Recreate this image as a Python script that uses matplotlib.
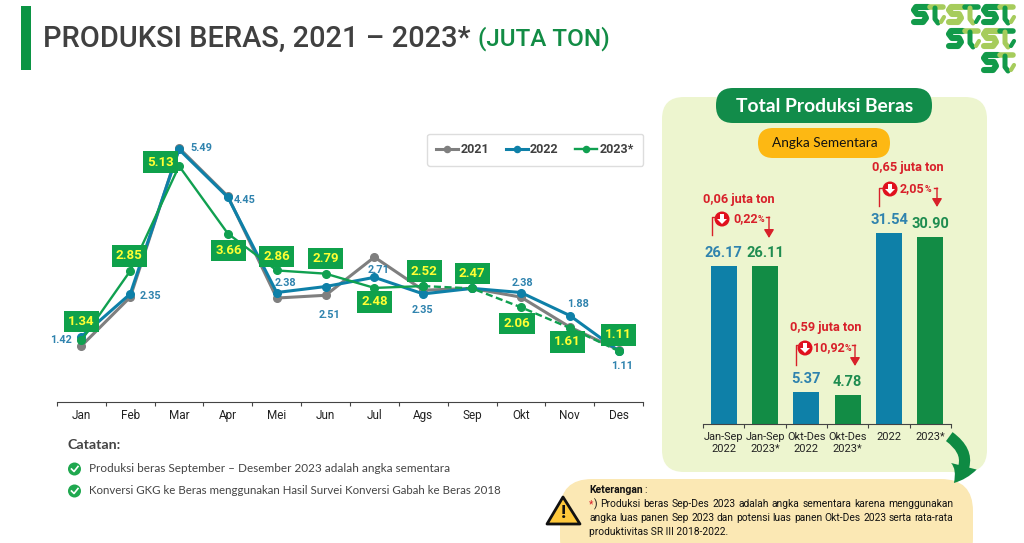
import matplotlib
matplotlib.use('Agg')
import matplotlib.pyplot as plt
from matplotlib.patches import FancyBboxPatch, FancyArrowPatch, Polygon, Circle

W, H = 1024, 543
plt.rcParams['font.family'] = ['Roboto', 'DejaVu Sans']

# data
months = ['Jan', 'Feb', 'Mar', 'Apr', 'Mei', 'Jun', 'Jul', 'Ags', 'Sep', 'Okt', 'Nov', 'Des']
prod_2021 = [1.22, 2.28, 5.52, 4.47, 2.26, 2.32, 3.15, 2.43, 2.47, 2.28, 1.63, 1.13]
prod_2022 = [1.42, 2.35, 5.49, 4.45, 2.38, 2.51, 2.71, 2.35, 2.47, 2.38, 1.88, 1.11]
prod_2023 = [1.34, 2.85, 5.13, 3.66, 2.86, 2.79, 2.48, 2.52, 2.47, 2.06, 1.61, 1.11]
solid_until = 7  # 2023 is dashed from Ags onward (angka sementara)

# label offsets in pixels from the point
off_2022 = [(-20, -3), (20, -2), (22, 1), (17, -3), (9, 10), (4, -28), (4, 7), (-1, -16),
            None, (2, 10), (8, 12), (3, -15)]
off_2023 = [(0, 19), (-1, 15), (-19, 4), (1, -17), (0, 14), (0, 15), (0, -14), (1, 15),
            (0, 15), (-4, -16), (-2, -14), (0, 16)]

bar_labels = ['Jan-Sep\n2022', 'Jan-Sep\n2023*', 'Okt-Des\n2022', 'Okt-Des\n2023*', '2022', '2023*']
bar_values = [26.17, 26.11, 5.37, 4.78, 31.54, 30.90]

GREY = '#7F7F7F'
BLUE = '#0E80A8'
GREEN = '#10A050'
DKGREEN = '#128C45'
RED = '#D8202A'
INK = '#111111'

fig = plt.figure(figsize=(W / 100, H / 100), dpi=100)
r = fig.canvas.get_renderer()

# background layer in pixel coordinates
bg = fig.add_axes([0, 0, 1, 1], zorder=0)
bg.set_xlim(0, W)
bg.set_ylim(H, 0)
bg.axis('off')


def rbox(ax, x0, y0, x1, y1, rad, color, z=1):
    ax.add_patch(FancyBboxPatch((x0, y0), x1 - x0, y1 - y0, boxstyle='round,pad=0,rounding_size=%s' % rad,
                                fc=color, ec='none', zorder=z))


def pixel_axes(l, t, right, b, z):
    return fig.add_axes([l / W, 1 - b / H, (right - l) / W, (b - t) / H], zorder=z, facecolor='none')


def fit_width(t, width):
    # scale the font so the text takes the given width in pixels
    t.set_fontsize(t.get_fontsize() * width / t.get_window_extent(r).width)


# title
bg.add_patch(plt.Rectangle((21, 6), 10, 64, fc='#0B9444', ec='none'))
t1 = bg.text(43, 39, 'PRODUKSI BERAS, 2021 – 2023*', fontsize=24, weight='medium', color='#404040', va='center')
t2 = bg.text(478, 39, '(JUTA TON)', fontsize=24, weight='medium', color=DKGREEN, va='center')
fit_width(t1, 427)
fit_width(t2, 132)


# logo, a rough ST mark built from thick strokes
def st_mark(x, y, dark, light):
    bg.plot([x + 17, x + 5, x + 3, x + 6, x + 13, x + 15, x + 12, x + 3],
            [y + 4, y + 4, y + 7, y + 11, y + 11, y + 15, y + 19, y + 19],
            color=dark, lw=4.4, solid_capstyle='round', solid_joinstyle='round')
    bg.plot([x + 19, x + 32], [y + 4, y + 4], color=light, lw=4, solid_capstyle='round')
    bg.plot([x + 24, x + 24, x + 27], [y + 5, y + 16, y + 20], color=dark, lw=3.6, solid_capstyle='round')
    bg.plot([x + 30, x + 33], [y + 19, y + 14], color=light, lw=3, solid_capstyle='round')


LOGO_D, LOGO_L = '#129A4A', '#A6CC5C'
st_mark(911, 3, LOGO_D, LOGO_L)
st_mark(946, 3, LOGO_L, LOGO_D)
st_mark(981, 3, LOGO_D, LOGO_L)
st_mark(946, 27, LOGO_D, LOGO_L)
st_mark(981, 27, LOGO_L, LOGO_D)
st_mark(981, 51, LOGO_D, LOGO_L)

# right panel
rbox(bg, 662, 97, 987, 472, 22, '#EDF5CF')
rbox(bg, 716, 88, 932, 123, 17, '#128C4A', 2)
rbox(bg, 758, 128, 890, 158, 15, '#FDB813', 2)
t3 = bg.text(825, 106, 'Total Produksi Beras', family='Lato', weight='bold', fontsize=13,
             color='white', ha='center', va='center', zorder=3)
t4 = bg.text(825, 143, 'Angka Sementara', family='Lato', fontsize=9.5, color=INK,
             ha='center', va='center', zorder=3)
fit_width(t3, 178)
fit_width(t4, 106)

# keterangan panel
rbox(bg, 560, 479, 973, 570, 32, '#FBE8B4')
bg.add_patch(Polygon([(563, 497), (580, 524), (547, 524)], closed=True, fc='#FFC93C', ec=INK,
                     lw=2, joinstyle='round', zorder=3))
bg.text(563, 513, '!', fontsize=14, weight='bold', color=INK, ha='center', va='center', zorder=4)
bg.add_patch(FancyArrowPatch((947, 435), (952, 485), connectionstyle='arc3,rad=-0.6',
                             arrowstyle='simple,head_width=19,head_length=14,tail_width=8',
                             fc='#0E8A43', ec='none', zorder=4))

NOTE_FS = 7.4
kt = bg.text(589, 490, 'Keterangan', fontsize=NOTE_FS, weight='bold', color=INK, va='center', zorder=3)
fit_width(kt, 54)
bg.text(644, 490, ':', fontsize=NOTE_FS, color=INK, va='center', zorder=3)
note_lines = ['*) Produksi beras Sep-Des 2023 adalah angka sementara karena menggunakan',
              'angka luas panen Sep 2023 dan potensi luas panen Okt-Des 2023 serta rata-rata']
note_y = [504, 518]
# justified lines: spread the words between the two edges
for line, y in zip(note_lines, note_y):
    words = line.split()
    items = [bg.text(0, y, w, fontsize=NOTE_FS, color=INK, va='center', zorder=3) for w in words]
    widths = [t.get_window_extent(r).width for t in items]
    gap = (953 - 589 - sum(widths)) / (len(words) - 1)
    x = 589
    for t, wd in zip(items, widths):
        t.set_x(x)
        if t.get_text() == '*)':
            t.set_text('*')
            t.set_color(RED)
            star = t.get_window_extent(r).width
            bg.text(x + star, y, ')', fontsize=NOTE_FS, color=INK, va='center', zorder=3)
        x += wd + gap
bg.text(589, 532, 'produktivitas SR III 2018-2022.', fontsize=NOTE_FS, color=INK, va='center', zorder=3)

# catatan
t5 = bg.text(67, 445, 'Catatan:', family='Lato', weight='bold', fontsize=10, color='#444444', va='center')
fit_width(t5, 53)
notes = ['Produksi beras September – Desember 2023 adalah angka sementara',
         'Konversi GKG ke Beras menggunakan Hasil Survei Konversi Gabah ke Beras 2018']
for y, s, wd in zip([469, 491], notes, [360, 414]):
    bg.add_patch(Circle((74.5, y), 6.5, fc='#1FA84F', ec='none'))
    bg.plot([71.5, 74, 78], [y, y + 2.5, y - 2.5], color='white', lw=1.2)
    fit_width(bg.text(89, y, s, family='Lato', fontsize=8.5, color='#444444', va='center'), wd)

# line chart
ax = pixel_axes(57, 130, 643, 402, 2)
ax.set_xlim(-0.5, 11.5)
ax.set_ylim(0, 272 / 46)
x = list(range(12))
ax.plot(x, prod_2021, color=GREY, lw=2.2, marker='o', ms=5.5, label='2021')
ax.plot(x, prod_2022, color=BLUE, lw=2.2, marker='o', ms=5.5, label='2022')
ax.plot(x[:solid_until + 1], prod_2023[:solid_until + 1], color=GREEN, lw=1.7, marker='o', ms=5.5, label='2023*')
ax.plot(x[solid_until:], prod_2023[solid_until:], color=GREEN, lw=1.7, ls=(0, (3, 1.5)), marker='o', ms=5.5)

for i, v in enumerate(prod_2022):
    if off_2022[i] is not None:
        ax.annotate('%.2f' % v, (i, v), xytext=off_2022[i], textcoords='offset pixels', ha='center',
                    va='center', fontsize=7.8, weight='bold', color='#2F83AE', zorder=6)
for i, v in enumerate(prod_2023):
    ax.annotate('%.2f' % v, (i, v), xytext=off_2023[i], textcoords='offset pixels', ha='center',
                va='center', fontsize=9.5, weight='bold', color='#FFFF33', zorder=7,
                bbox=dict(boxstyle='square,pad=0.32', fc='#0FA14B', ec='none'))

for s in ['top', 'left', 'right']:
    ax.spines[s].set_visible(False)
ax.spines['bottom'].set_color('#444444')
ax.set_yticks([])
ax.set_xticks(x)
ax.set_xticklabels(months, fontsize=8.5, color='#222222')
ax.tick_params(axis='x', length=0, pad=5)
ax.set_xticks([i - 0.5 for i in range(13)], minor=True)
ax.tick_params(axis='x', which='minor', length=3, width=0.8, color='#444444')
leg = ax.legend(loc='upper left', bbox_to_anchor=((427 - 57) / 586, (402 - 134) / 272), ncol=3, fontsize=9,
                frameon=True, fancybox=True, edgecolor='#DDDDDD', framealpha=1, handlelength=1.75,
                columnspacing=1.3, handletextpad=0.2, borderpad=0.75, borderaxespad=0, markerscale=0.8)
for t in leg.get_texts():
    t.set_color('#404040')
    t.set_weight('bold')

# bar chart
bx = pixel_axes(703, 200, 951, 424, 3)
bx.set_xlim(-0.5, 5.5)
bx.set_ylim(0, 224 / 6.05)
bar_colors = [BLUE, DKGREEN] * 3
bars = bx.bar(range(6), bar_values, width=0.63, color=bar_colors)
label_colors = ['#2F83AE', '#1E8C50'] * 3
for b, v, c in zip(bars, bar_values, label_colors):
    bx.annotate('%.2f' % v, (b.get_x() + b.get_width() / 2, v), xytext=(0, 13), textcoords='offset pixels',
                ha='center', va='center', fontsize=10.5, weight='bold', color=c)
for s in ['top', 'left', 'right']:
    bx.spines[s].set_visible(False)
bx.spines['bottom'].set_color('#444444')
bx.set_yticks([])
bx.set_xticks(range(6))
bx.set_xticklabels(bar_labels, fontsize=7.9, color='#222222', linespacing=1.2)
bx.tick_params(axis='x', length=0, pad=6)
bx.set_xticks([i - 0.5 for i in range(7)], minor=True)
bx.tick_params(axis='x', which='minor', length=3, width=0.8, color='#444444')


# red change callouts on top of the panel
top = fig.add_axes([0, 0, 1, 1], zorder=5, facecolor='none')
top.set_xlim(0, W)
top.set_ylim(H, 0)
top.axis('off')


def callout(tx, ty, text, cx, cy, lx, ly0, ly1, px, pct, rx0, rx1, ry0, ry1):
    top.text(tx, ty, text, fontsize=9.2, weight='bold', color=RED, ha='center', va='center')
    top.plot([lx, lx, lx + 4], [ly0, ly1, ly1], color=RED, lw=1)
    top.plot([rx0, rx1], [ry0, ry0], color=RED, lw=1)
    top.add_patch(FancyArrowPatch((rx1, ry0), (rx1, ry1), arrowstyle='-|>,head_width=3,head_length=5',
                                  mutation_scale=1, color=RED, lw=1, shrinkA=0, shrinkB=0))
    top.add_patch(Circle((cx, cy), 7.5, fc='#E0101E', ec='none'))
    top.add_patch(Polygon([(cx - 2, cy - 5), (cx + 2, cy - 5), (cx + 2, cy), (cx + 5, cy), (cx, cy + 5),
                           (cx - 5, cy), (cx - 2, cy)], closed=True, fc='white', ec='none'))
    t = top.text(px, cy, pct, fontsize=9, weight='bold', color=RED, va='center')
    e = t.get_window_extent(r)
    top.text(px + e.width, cy + 0.5, '%', fontsize=6.5, weight='bold', color=RED, va='center', zorder=6)


callout(739, 199, '0,06 juta ton', 722, 219, 712, 235, 217, 733, '0,22', 766, 769, 217, 238)
callout(826, 328, '0,59 juta ton', 805, 348, 796, 365, 345, 813, '10,92', 852, 855, 345, 366)
callout(908, 168, '0,65 juta ton', 890, 189, 879, 206, 188, 900, '2,05', 934, 937, 188, 207)

fig.savefig('out.png', dpi=100)
